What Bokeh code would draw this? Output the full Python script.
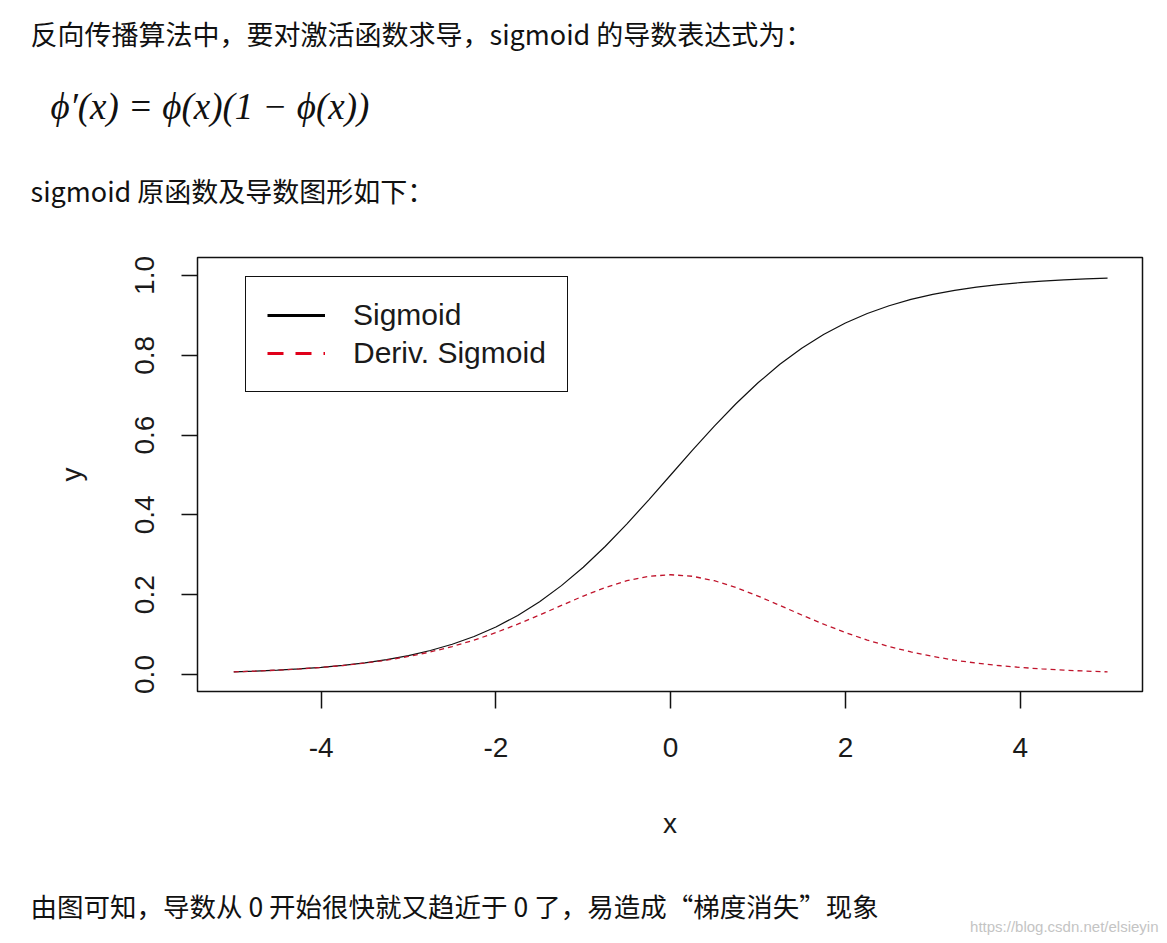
from bokeh.plotting import figure
from bokeh.layouts import column, row
from bokeh.models import Range1d, FixedTicker, Label, Legend, LegendItem
from bokeh.embed import file_html
from bokeh.resources import INLINE

# ---------------- data ----------------
x_vals = [-5.0, -4.75, -4.5, -4.25, -4.0, -3.75, -3.5, -3.25, -3.0, -2.75, -2.5,
          -2.25, -2.0, -1.75, -1.5, -1.25, -1.0, -0.75, -0.5, -0.25, 0.0,
          0.25, 0.5, 0.75, 1.0, 1.25, 1.5, 1.75, 2.0, 2.25, 2.5,
          2.75, 3.0, 3.25, 3.5, 3.75, 4.0, 4.25, 4.5, 4.75, 5.0]
sigmoid_vals = [0.0067, 0.0086, 0.0110, 0.0141, 0.0180, 0.0230, 0.0293, 0.0373, 0.0474, 0.0601, 0.0759,
                0.0953, 0.1192, 0.1480, 0.1824, 0.2227, 0.2689, 0.3208, 0.3775, 0.4378, 0.5000,
                0.5622, 0.6225, 0.6792, 0.7311, 0.7773, 0.8176, 0.8520, 0.8808, 0.9047, 0.9241,
                0.9399, 0.9526, 0.9627, 0.9707, 0.9770, 0.9820, 0.9859, 0.9890, 0.9914, 0.9933]
deriv_vals = [0.0066, 0.0085, 0.0109, 0.0139, 0.0177, 0.0225, 0.0285, 0.0359, 0.0452, 0.0565, 0.0701,
              0.0862, 0.1050, 0.1261, 0.1491, 0.1731, 0.1966, 0.2179, 0.2350, 0.2461, 0.2500,
              0.2461, 0.2350, 0.2179, 0.1966, 0.1731, 0.1491, 0.1261, 0.1050, 0.0862, 0.0701,
              0.0565, 0.0452, 0.0359, 0.0285, 0.0225, 0.0177, 0.0139, 0.0109, 0.0085, 0.0066]

x_ticks = [-4, -2, 0, 2, 4]
x_tick_labels = ["-4", "-2", "0", "2", "4"]
y_ticks = [0.0, 0.2, 0.4, 0.6, 0.8, 1.0]
y_tick_labels = ["0.0", "0.2", "0.4", "0.6", "0.8", "1.0"]
legend_labels = ["Sigmoid", "Deriv. Sigmoid"]
x_label = "x"
y_label = "y"

intro_text = "反向传播算法中，要对激活函数求导，sigmoid 的导数表达式为："
formula_text = "ϕ′(x) = ϕ(x)(1 − ϕ(x))"
caption_text = "sigmoid 原函数及导数图形如下："
conclusion_text = "由图可知，导数从 0 开始很快就又趋近于 0 了，易造成“梯度消失”现象"
watermark_text = "https://blog.csdn.net/elsieyin"

# ---------------- page geometry ----------------
W = 1167
TOP_H = 230          # text block above the chart
MAIN_H = 640         # chart canvas
BOT_H = 943 - TOP_H - MAIN_H
FL, FR = 197, 1142   # frame left/right on page
FT, FB = 257, 691    # frame top/bottom on page

CJK = "Noto Sans CJK SC"
AX_FONT = "Liberation Sans"


def text_panel(height):
    f = figure(width=W, height=height, output_backend="svg", toolbar_location=None,
               x_range=Range1d(0, W), y_range=Range1d(height, 0),
               x_axis_type=None, y_axis_type=None, min_border=0,
               background_fill_color="white", border_fill_color="white")
    f.grid.visible = False
    f.outline_line_color = None
    return f


def put(f, text, x, y, font, size, color="#111111", align="left", style="normal"):
    f.add_layout(Label(x=x, y=y, text=text, text_font=font, text_font_size=size,
                       text_color=color, text_align=align, text_baseline="middle",
                       text_font_style=style))


# ---------------- top text ----------------
top = text_panel(TOP_H)
put(top, intro_text, 30, 33, CJK, "27px")
put(top, formula_text, 50, 106, "Liberation Serif", "37px", style="italic")
put(top, caption_text, 30, 190, CJK, "27px")

# ---------------- chart ----------------
p = figure(width=W, height=MAIN_H, output_backend="svg", toolbar_location=None,
           x_range=Range1d(-5.415, 5.40), y_range=Range1d(-0.0426, 1.045),
           min_border_left=FL, min_border_right=W - FR,
           min_border_top=FT - TOP_H, min_border_bottom=TOP_H + MAIN_H - FB,
           background_fill_color="white", border_fill_color="white")
p.grid.visible = False
p.outline_line_color = "#111111"
p.outline_line_width = 1.5

for ax in (p.xaxis[0], p.yaxis[0]):
    ax.axis_line_color = None
    ax.minor_tick_line_color = None
    ax.major_tick_line_color = "#111111"
    ax.major_tick_line_width = 1.5
    ax.major_tick_in = 0
    ax.major_label_text_font = AX_FONT
    ax.major_label_text_font_size = "28px"
    ax.major_label_text_color = "#1a1a1a"
    ax.axis_label_text_font = AX_FONT
    ax.axis_label_text_font_size = "28px"
    ax.axis_label_text_font_style = "normal"
    ax.axis_label_text_color = "#1a1a1a"

xa = p.xaxis[0]
xa.ticker = FixedTicker(ticks=x_ticks)
xa.major_label_overrides = dict(zip(x_ticks, x_tick_labels))
xa.major_tick_out = 17
xa.major_label_standoff = 29
xa.axis_label = x_label
xa.axis_label_standoff = 48

ya = p.yaxis[0]
ya.ticker = FixedTicker(ticks=y_ticks)
ya.major_label_overrides = dict(zip(y_ticks, y_tick_labels))
ya.major_label_orientation = "vertical"
ya.major_tick_out = 16
ya.major_label_standoff = 27
ya.axis_label = y_label
ya.axis_label_standoff = 46

# curves
p.line(x_vals, sigmoid_vals, line_color="#111111", line_width=1.2)
p.line(x_vals, deriv_vals, line_color="#c0142c", line_width=1.3, line_dash="5 4")

# legend proxies (thicker lines as in the reference legend)
r_leg1 = p.line(x_vals, sigmoid_vals, line_color="#000000", line_width=3, visible=False)
r_leg2 = p.line(x_vals, deriv_vals, line_color="#e0001a", line_width=3,
                line_dash="16 12", visible=False)

legend = Legend(items=[LegendItem(label=legend_labels[0], renderers=[r_leg1]),
                       LegendItem(label=legend_labels[1], renderers=[r_leg2])],
                location=(48, FB - 392), orientation="vertical",
                glyph_width=58, glyph_height=30, label_standoff=28,
                label_text_font=AX_FONT, label_text_font_size="30px",
                label_text_color="#1a1a1a",
                padding=21, spacing=4, margin=0,
                border_line_color="#111111", border_line_width=1.5, border_line_alpha=1.0,
                background_fill_color="white", background_fill_alpha=1.0)
p.add_layout(legend, "center")

# ---------------- bottom text ----------------
bot = text_panel(BOT_H)
put(bot, conclusion_text, 30, 905 - TOP_H - MAIN_H, CJK, "26.5px")
put(bot, watermark_text, 1158, 926 - TOP_H - MAIN_H, AX_FONT, "15px",
    color="#c4c4c4", align="right")

# text panels wrapped in their own containers so their frames keep the full width
layout = column(row(top), p, row(bot), spacing=0)
open("out.html", "w").write(file_html(layout, INLINE))
